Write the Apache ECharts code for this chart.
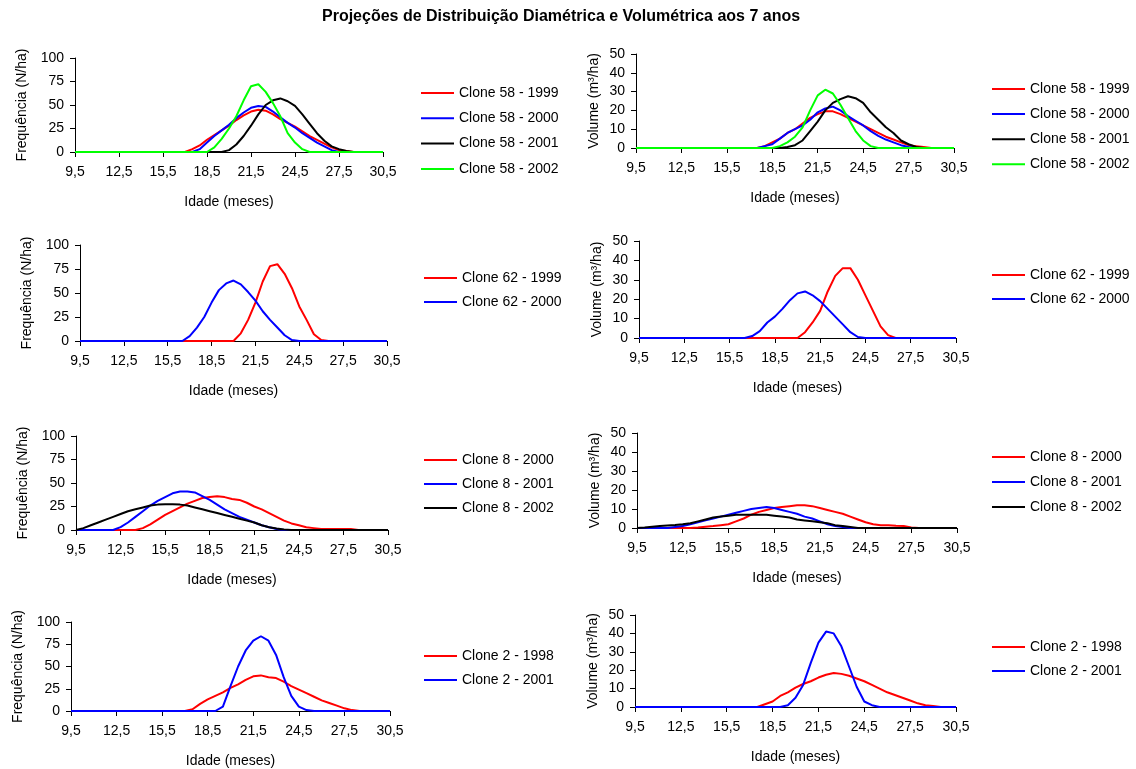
<!DOCTYPE html>
<html>
<head>
<meta charset="utf-8">
<script src="https://cdn.jsdelivr.net/npm/echarts@6/dist/echarts.min.js"></script>
<style>html,body{margin:0;padding:0;background:#fff;}#c{width:1136px;height:769px;}</style>
</head>
<body>
<div id="c"></div>
<script>
// ---------- DATA ----------
const titleText = 'Projeções de Distribuição Diamétrica e Volumétrica aos 7 anos';
const ages = [9.5,10,10.5,11,11.5,12,12.5,13,13.5,14,14.5,15,15.5,16,16.5,17,17.5,18,18.5,19,19.5,20,20.5,21,21.5,22,22.5,23,23.5,24,24.5,25,25.5,26,26.5,27,27.5,28,28.5,29,29.5,30,30.5];
const freqTicks = [0,25,50,75,100];
const volTicks = [0,10,20,30,40,50];

// Clone 58 - Frequência
const f58_1999 = [0,0,0,0,0,0,0,0,0,0,0,0,0,0,0,0, 3,7,13,18,23,28,34,39,43,45,44,40,35,31,27,22,17,13,9,5,2,1, 0,0,0,0,0];
const f58_2000 = [0,0,0,0,0,0,0,0,0,0,0,0,0,0,0,0,0, 3,10,17,23,29,36,42,47,49,48,43,37,31,26,20,15,10,6,2, 0,0,0,0,0,0,0];
const f58_2001 = [0,0,0,0,0,0,0,0,0,0,0,0,0,0,0,0,0,0,0,0,0, 2,8,17,28,40,50,55,57,54,49,40,30,20,12,6,3,1, 0,0,0,0,0];
const f58_2002 = [0,0,0,0,0,0,0,0,0,0,0,0,0,0,0,0,0,0,0, 5,14,25,38,55,70,72,64,52,38,20,10,3, 0,0,0,0,0,0,0,0,0,0,0];
// Clone 58 - Volume
const v58_1999 = [0,0,0,0,0,0,0,0,0,0,0,0,0,0,0,0,0, 1,3,5,8,10,13,16,18,19.5,19.5,18,16,14,12,10,8,6,4.5,3,1.5,1,0.5, 0,0,0,0];
const v58_2000 = [0,0,0,0,0,0,0,0,0,0,0,0,0,0,0,0,0, 1,2,5,8,10,12,15,19,21,22,20,17,14.5,12,9,6.5,4.5,3,1.5,0.5, 0,0,0,0,0,0];
const v58_2001 = [0,0,0,0,0,0,0,0,0,0,0,0,0,0,0,0,0,0,0,0, 0.5,1.5,4,9,14,20,24,26,27.5,26.5,24,19,15,11,8,4,2,0.5, 0,0,0,0,0];
const v58_2002 = [0,0,0,0,0,0,0,0,0,0,0,0,0,0,0,0,0,0,0, 1,3,6,11,20,28,31,29,23,16,9,4,1, 0,0,0,0,0,0,0,0,0,0,0];
// Clone 62
const f62_1999 = [0,0,0,0,0,0,0,0,0,0,0,0,0,0,0,0,0,0,0,0,0,0, 8,22,40,62,78,80,70,55,36,22,7,1, 0,0,0,0,0,0,0,0,0];
const f62_2000 = [0,0,0,0,0,0,0,0,0,0,0,0,0,0,0, 5,14,25,40,53,60,63,59,51,42,31,22,14,6,1, 0,0,0,0,0,0,0,0,0,0,0,0,0];
const v62_1999 = [0,0,0,0,0,0,0,0,0,0,0,0,0,0,0,0,0,0,0,0,0,0, 3,8,14,24,32,36,36,30,22,14,6,1.5, 0,0,0,0,0,0,0,0,0];
const v62_2000 = [0,0,0,0,0,0,0,0,0,0,0,0,0,0,0, 1,3.5,8,11,15,19.5,23,24,22,19,15,11,7,3,0.5, 0,0,0,0,0,0,0,0,0,0,0,0,0];
// Clone 8
const f8_2000 = [0,0,0,0,0,0,0,0,0, 2,6,11,16,20,24,28,31,34,35,36,35,33,32,29,25,22,18,14,10,7,5,3,2,1,1,1,1,1, 0,0,0,0,0];
const f8_2001 = [0,0,0,0,0,0, 3,8,14,20,26,31,35,39,41,41,40,36,32,27,22,18,14,11,8,5,3,1, 0,0,0,0,0,0,0,0,0,0,0,0,0,0,0];
const f8_2002 = [0,2,5,8,11,14,17,20,22,24,26,27,27.5,27.5,27,26,24,22,20,18,16,14,12,10,8,5,3,1.5,0.5, 0,0,0,0,0,0,0,0,0,0,0,0,0,0];
const v8_2000 = [0,0,0,0,0,0,0,0, 0.3,0.7,1,1.5,2,3.5,5,7,8.5,9.5,10.5,11,11.5,12,12,11.5,10.5,9.5,8.5,7.5,6,4.5,3,2,1.5,1.5,1.2,1,0.3, 0,0,0,0,0,0];
const v8_2001 = [0,0,0,0,0, 0.5,1,2,3,4,5,6,7,8,9,10,10.5,11,10.5,9.5,8.5,7.5,6,5,3.5,2,1,0.5, 0,0,0,0,0,0,0,0,0,0,0,0,0,0,0];
const v8_2002 = [0,0.3,0.7,1,1.3,1.6,2,2.5,3.5,4.5,5.5,6,6.5,7,7,7,7,7,6.5,6,5.5,4.5,4,3.5,3,2.5,1.5,1,0.5, 0,0,0,0,0,0,0,0,0,0,0,0,0,0];
// Clone 2
const f2_1998 = [0,0,0,0,0,0,0,0,0,0,0,0,0,0,0,0, 2,8,13,17,21,26,30,35,39,40,38,37,33,28,24,20,16,12,9,6,3,1, 0,0,0,0,0];
const f2_2001 = [0,0,0,0,0,0,0,0,0,0,0,0,0,0,0,0,0,0,0,0, 5,28,50,68,79,84,79,63,38,17,5,1, 0,0,0,0,0,0,0,0,0,0,0];
const v2_1998 = [0,0,0,0,0,0,0,0,0,0,0,0,0,0,0,0,0, 1.5,3,6,8,10.5,12.5,14,16,17.5,18.5,18,17,15.5,14,12,10,8,6.5,5,3.5,2,1,0.5, 0,0,0];
const v2_2001 = [0,0,0,0,0,0,0,0,0,0,0,0,0,0,0,0,0,0,0,0, 1,5,12,24,35,41,40,33,22,11,3,1, 0,0,0,0,0,0,0,0,0,0,0];

// ---------- LAYOUT ----------
const COL = {red:'#FF0000', blue:'#0000FF', black:'#000000', green:'#00FF00'};
const FONT = 'Liberation Sans, Arial, sans-serif';
const panels = [
  {grid:{left:75,top:58,width:308,height:94}, kind:'f', legend:{left:421,top:86,gap:11.3},
   series:[['Clone 58 - 1999',f58_1999,'red'],['Clone 58 - 2000',f58_2000,'blue'],['Clone 58 - 2001',f58_2001,'black'],['Clone 58 - 2002',f58_2002,'green']]},
  {grid:{left:636,top:54,width:318,height:94}, kind:'v', legend:{left:992,top:82,gap:11.1},
   series:[['Clone 58 - 1999',v58_1999,'red'],['Clone 58 - 2000',v58_2000,'blue'],['Clone 58 - 2001',v58_2001,'black'],['Clone 58 - 2002',v58_2002,'green']]},
  {grid:{left:80,top:245,width:307,height:96}, kind:'f', legend:{left:424,top:271,gap:10},
   series:[['Clone 62 - 1999',f62_1999,'red'],['Clone 62 - 2000',f62_2000,'blue']]},
  {grid:{left:639,top:241,width:317,height:97}, kind:'v', legend:{left:992,top:268,gap:10},
   series:[['Clone 62 - 1999',v62_1999,'red'],['Clone 62 - 2000',v62_2000,'blue']]},
  {grid:{left:76,top:436,width:312,height:94}, kind:'f', legend:{left:424,top:453,gap:10},
   series:[['Clone 8 - 2000',f8_2000,'red'],['Clone 8 - 2001',f8_2001,'blue'],['Clone 8 - 2002',f8_2002,'black']]},
  {grid:{left:637,top:433,width:320,height:95}, kind:'v', legend:{left:992,top:450,gap:11},
   series:[['Clone 8 - 2000',v8_2000,'red'],['Clone 8 - 2001',v8_2001,'blue'],['Clone 8 - 2002',v8_2002,'black']]},
  {grid:{left:71,top:622,width:319,height:91}, kind:'f', legend:{left:424,top:649,gap:10},
   series:[['Clone 2 - 1998',f2_1998,'red'],['Clone 2 - 2001',f2_2001,'blue']]},
  {grid:{left:635,top:615,width:321,height:92}, kind:'v', legend:{left:992,top:640,gap:10},
   series:[['Clone 2 - 1998',v2_1998,'red'],['Clone 2 - 2001',v2_2001,'blue']]}
];

const txt = {color:'#000', fontFamily:FONT, fontSize:14};
const axisLine = {lineStyle:{color:'#000', width:1}};
const option = {
  animation:false,
  backgroundColor:'#fff',
  title:{text:titleText, left:317, top:4, textStyle:{fontFamily:FONT, fontSize:16, fontWeight:'bold', color:'#000'}},
  grid:[], xAxis:[], yAxis:[], legend:[], series:[]
};
panels.forEach((p,i)=>{
  option.grid.push(Object.assign({containLabel:false}, p.grid));
  option.xAxis.push({
    type:'category', gridIndex:i, data:ages, boundaryGap:false,
    axisLine:axisLine,
    axisTick:{show:true, interval:5, length:5, lineStyle:{color:'#000'}},
    axisLabel:Object.assign({interval:5, margin:13, formatter:v=>String(v).replace('.',',')}, txt),
    splitLine:{show:false},
    name:'Idade (meses)', nameLocation:'middle', nameGap:43, nameTextStyle:txt
  });
  const isF = p.kind==='f';
  const ticks = isF ? freqTicks : volTicks;
  option.yAxis.push({
    type:'value', gridIndex:i, min:ticks[0], max:ticks[ticks.length-1], interval:ticks[1]-ticks[0],
    axisLine:Object.assign({show:true}, axisLine),
    axisTick:{show:true, length:5, lineStyle:{color:'#000'}},
    axisLabel:Object.assign({margin:11}, txt),
    splitLine:{show:false},
    name: isF ? 'Frequência (N/ha)' : 'Volume (m³/ha)',
    nameLocation:'middle', nameRotate:90, nameGap: isF ? 46 : 35,
    nameTextStyle:txt
  });
  option.legend.push({
    orient:'vertical', left:p.legend.left, top:p.legend.top, padding:0,
    icon:'rect', itemWidth:33, itemHeight:2, itemGap:p.legend.gap,
    textStyle:Object.assign({lineHeight:14}, txt), data:p.series.map(s=>s[0]), selectedMode:false
  });
  p.series.forEach(s=>{
    option.series.push({
      type:'line', name:s[0], xAxisIndex:i, yAxisIndex:i, data:s[1],
      symbol:'none', smooth:false,
      lineStyle:{color:COL[s[2]], width:2}, itemStyle:{color:COL[s[2]]}
    });
  });
});
const chart = echarts.init(document.getElementById('c'), null, {renderer:'canvas'});
chart.setOption(option);
</script>
</body>
</html>
